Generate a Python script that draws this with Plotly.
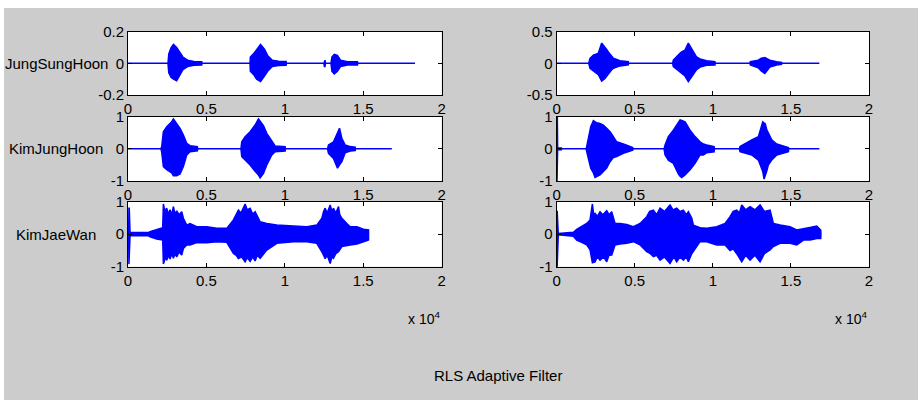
import plotly.graph_objects as go

# ---------------- data (envelopes, x in samples) ----------------
names = ["JungSungHoon", "KimJungHoon", "KimJaeWan"]
title_text = "RLS Adaptive Filter"
xtick_vals = [0, 5000, 10000, 15000, 20000]
xtick_text = ["0", "0.5", "1", "1.5", "2"]

# left column
l1_x = [0, 2550, 2600, 2750, 2900, 3100, 3300, 3500, 3800, 4200, 4700, 4720, 7780, 7800, 8000, 8200, 8450, 8700, 8900, 9200,
        9600, 10080, 10100, 12490, 12520, 12560, 12590, 12940, 13000, 13150, 13350, 13550, 14000, 14630, 14650, 18300]
l1_up = [0, 0, 0.06, 0.10, 0.12, 0.10, 0.07, 0.04, 0.02, 0.012, 0.01, 0, 0, 0.04, 0.06, 0.09, 0.12, 0.09, 0.05, 0.02,
         0.013, 0.012, 0, 0, 0.02, 0.02, 0, 0, 0.04, 0.057, 0.05, 0.02, 0.01, 0.01, 0, 0]
l1_lo = [0, 0, -0.06, -0.09, -0.10, -0.11, -0.08, -0.04, -0.02, -0.012, -0.01, 0, 0, -0.05, -0.07, -0.10, -0.115, -0.08, -0.05, -0.02,
         -0.013, -0.012, 0, 0, -0.02, -0.02, 0, 0, -0.05, -0.067, -0.05, -0.02, -0.01, -0.01, 0, 0]

l2_x = [0, 2100, 2150, 2255, 2470, 2786, 2893, 3106, 3318, 3531, 3744, 3956, 4424, 4440, 7200, 7253, 7466, 7785, 8104, 8317,
        8423, 8636, 8848, 9167, 9380, 10018, 10030, 12720, 12783, 13102, 13357, 13485, 13634, 13847, 14166, 14485, 14500, 16820]
l2_up = [0, 0, 0.07, 0.53, 0.69, 0.84, 0.93, 0.79, 0.64, 0.43, 0.17, 0.10, 0.07, 0, 0, 0.22, 0.38, 0.53, 0.74, 0.93,
         0.85, 0.72, 0.48, 0.22, 0.09, 0.07, 0, 0, 0.12, 0.22, 0.48, 0.64, 0.33, 0.12, 0.07, 0.05, 0, 0]
l2_lo = [0, 0, -0.1, -0.55, -0.65, -0.75, -0.84, -0.84, -0.78, -0.55, -0.19, -0.09, -0.06, 0, 0, -0.24, -0.35, -0.5, -0.7, -0.81,
         -0.9, -0.76, -0.5, -0.19, -0.09, -0.07, 0, 0, -0.14, -0.3, -0.6, -0.5, -0.4, -0.12, -0.07, -0.05, 0, 0]

l3_up_x = [0, 40, 60, 80, 130, 1300, 1404, 1829, 2212, 2255, 2350, 2467, 2570, 2680, 2790, 2893, 3000, 3105, 3250, 3424,
           3531, 3744, 3956, 4382, 5020, 5658, 6296, 6721, 6900, 7040, 7200, 7466, 7600, 7785, 7950, 8104, 8300, 8423, 8848, 9486,
           10550, 11400, 12039, 12358, 12470, 12570, 12700, 12890, 13000, 13102, 13250, 13421, 13500, 13634, 13953, 14166, 14591, 15017, 15336, 15340]
l3_up = [0, 0, 0.8, 0.8, 0.05, 0.05, 0.08, 0.15, 0.2, 0.93, 0.7, 0.8, 0.62, 0.75, 0.6, 0.85, 0.62, 0.72, 0.6, 0.69,
         0.49, 0.28, 0.33, 0.23, 0.23, 0.18, 0.18, 0.44, 0.6, 0.74, 0.65, 0.93, 0.75, 0.8, 0.62, 0.69, 0.5, 0.38, 0.33, 0.28,
         0.25, 0.23, 0.28, 0.49, 0.7, 0.8, 0.65, 0.9, 0.7, 0.8, 0.65, 0.85, 0.6, 0.49, 0.33, 0.23, 0.23, 0.15, 0.13, 0]
l3_lo_x = [0, 40, 60, 80, 130, 1300, 1404, 1829, 2212, 2255, 2297, 2400, 2467, 2600, 2680, 2800, 2893, 3000, 3105, 3250,
           3424, 3531, 3744, 3956, 4382, 5020, 5658, 6296, 6721, 6900, 7040, 7250, 7466, 7600, 7785, 7950, 8104, 8250, 8423, 8848,
           9486, 10550, 11400, 12039, 12358, 12570, 12700, 12890, 13000, 13102, 13250, 13421, 13634, 13953, 14166, 14591, 15017, 15336, 15340]
l3_lo = [0, 0, -0.92, -0.92, -0.05, -0.05, -0.08, -0.15, -0.18, -0.92, -0.92, -0.7, -0.8, -0.65, -0.76, -0.6, -0.74, -0.6, -0.7, -0.55,
         -0.64, -0.44, -0.33, -0.33, -0.26, -0.26, -0.23, -0.25, -0.59, -0.65, -0.75, -0.7, -0.85, -0.72, -0.84, -0.7, -0.82, -0.65, -0.74, -0.49,
         -0.28, -0.23, -0.23, -0.28, -0.54, -0.75, -0.65, -0.9, -0.7, -0.74, -0.6, -0.54, -0.38, -0.35, -0.33, -0.3, -0.23, -0.18, 0]

# right column
r1_x = [0, 2048, 2133, 2347, 2560, 2666, 2880, 3094, 3200, 3307, 3520, 3627, 4054, 4587, 4600, 7425, 7468, 7575, 7895, 8000,
        8215, 8430, 8640, 8750, 8960, 9180, 9390, 9600, 10135, 10150, 12370, 12400, 12905, 13100, 13330, 13650, 14080, 14400, 14420, 16820]
r1_up = [0, 0, 0.08, 0.13, 0.15, 0.16, 0.32, 0.26, 0.22, 0.18, 0.1, 0.08, 0.04, 0.025, 0, 0, 0.05, 0.08, 0.16, 0.18,
         0.21, 0.32, 0.24, 0.18, 0.1, 0.07, 0.05, 0.04, 0.025, 0, 0, 0.025, 0.05, 0.08, 0.09, 0.05, 0.025, 0.015, 0, 0]
r1_lo = [0, 0, -0.08, -0.12, -0.16, -0.18, -0.28, -0.24, -0.21, -0.17, -0.1, -0.08, -0.04, -0.025, 0, 0, -0.05, -0.08, -0.14, -0.16,
         -0.2, -0.29, -0.22, -0.18, -0.1, -0.06, -0.05, -0.03, -0.025, 0, 0, -0.025, -0.07, -0.12, -0.16, -0.06, -0.025, -0.015, 0, 0]

r2_x = [0, 20, 40, 60, 300, 320, 1880, 1920, 2030, 2180, 2350, 2455, 2560, 2775, 2990, 3200, 3415, 3630, 3840, 4270,
        4700, 4870, 4890, 6875, 6940, 7150, 7470, 7790, 7900, 8005, 8220, 8540, 8860, 9180, 9395, 9610, 10080, 10100, 11700, 11740,
        12060, 12490, 12915, 13195, 13280, 13345, 13450, 13555, 13770, 14090, 14520, 14840, 14860, 16820]
r2_up = [0, 1, 1, 0.03, 0.03, 0, 0, 0.07, 0.38, 0.69, 0.88, 0.85, 0.81, 0.79, 0.74, 0.64, 0.53, 0.38, 0.22, 0.15,
         0.07, 0.04, 0, 0, 0.12, 0.38, 0.58, 0.79, 0.9, 0.88, 0.84, 0.58, 0.38, 0.22, 0.15, 0.12, 0.07, 0, 0, 0.07,
         0.17, 0.28, 0.38, 0.84, 0.8, 0.79, 0.6, 0.48, 0.28, 0.15, 0.09, 0.04, 0, 0]
r2_lo = [0, -1, -1, -0.03, -0.03, 0, 0, -0.08, -0.3, -0.6, -0.75, -0.89, -0.86, -0.81, -0.7, -0.6, -0.4, -0.27, -0.24, -0.14,
         -0.07, -0.04, 0, 0, -0.19, -0.35, -0.45, -0.78, -0.85, -0.89, -0.81, -0.65, -0.45, -0.19, -0.19, -0.12, -0.09, 0, 0, -0.09,
         -0.14, -0.19, -0.35, -0.7, -0.94, -0.85, -0.7, -0.5, -0.35, -0.19, -0.14, -0.09, 0, 0]

r3_up_x = [0, 10, 30, 100, 1068, 1281, 1601, 1922, 2135, 2285, 2370, 2455, 2600, 2776, 2950, 3203, 3350, 3523, 3736, 4057,
           4484, 4911, 5338, 5765, 5950, 6192, 6400, 6619, 6900, 7259, 7450, 7686, 7900, 8113, 8300, 8433, 8647, 8754, 9181, 9608,
           10248, 10782, 11102, 11300, 11529, 11700, 11850, 12100, 12383, 12700, 13024, 13300, 13664, 13878, 14305, 14945, 15372, 15799, 16226, 16653,
           16909, 16920]
r3_up = [0, 0.72, 0.72, 0.02, 0.06, 0.15, 0.23, 0.33, 0.44, 0.93, 0.6, 0.64, 0.55, 0.69, 0.6, 0.72, 0.6, 0.69, 0.33, 0.33,
         0.30, 0.23, 0.33, 0.54, 0.7, 0.74, 0.6, 0.8, 0.7, 0.9, 0.75, 0.8, 0.7, 0.74, 0.6, 0.69, 0.5, 0.28, 0.2, 0.18,
         0.23, 0.33, 0.54, 0.7, 0.74, 0.65, 0.9, 0.75, 0.85, 0.75, 0.9, 0.7, 0.74, 0.33, 0.28, 0.23, 0.13, 0.18, 0.21, 0.25,
         0.13, 0]
r3_lo_x = [0, 10, 30, 100, 1068, 1281, 1601, 1922, 2135, 2285, 2455, 2600, 2776, 3000, 3203, 3350, 3523, 3736, 4057, 4484,
           4911, 5338, 5765, 6000, 6192, 6400, 6619, 6900, 7259, 7500, 7686, 7900, 8113, 8300, 8433, 8647, 8754, 9181, 9608, 10248,
           10782, 11102, 11300, 11529, 11850, 12100, 12383, 12700, 13024, 13300, 13664, 13878, 14305, 14945, 15372, 15799, 16226, 16653, 16909, 16920]
r3_lo = [0, -1, -1, -0.02, -0.06, -0.18, -0.25, -0.33, -0.48, -0.88, -0.85, -0.7, -0.8, -0.7, -0.85, -0.65, -0.64, -0.33, -0.3, -0.28,
         -0.23, -0.33, -0.54, -0.6, -0.69, -0.65, -0.8, -0.7, -0.9, -0.7, -0.85, -0.7, -0.8, -0.7, -0.85, -0.6, -0.5, -0.23, -0.23, -0.33,
         -0.33, -0.5, -0.45, -0.6, -0.85, -0.65, -0.8, -0.65, -0.85, -0.6, -0.48, -0.38, -0.28, -0.28, -0.33, -0.18, -0.18, -0.13, -0.13, 0]

y_ranges = [[-0.2, 0.2], [-0.5, 0.5], [-1, 1], [-1, 1], [-1, 1], [-1, 1]]
y_ticks = [[-0.2, 0, 0.2], [-0.5, 0, 0.5], [-1, 0, 1], [-1, 0, 1], [-1, 0, 1], [-1, 0, 1]]
y_ticktext = [["-0.2", "0", "0.2"], ["-0.5", "0", "0.5"], ["-1", "0", "1"], ["-1", "0", "1"], ["-1", "0", "1"], ["-1", "0", "1"]]

# order: row-major (left, right) per row
signals = [(l1_x, l1_up, l1_x, l1_lo), (r1_x, r1_up, r1_x, r1_lo),
           (l2_x, l2_up, l2_x, l2_lo), (r2_x, r2_up, r2_x, r2_lo),
           (l3_up_x, l3_up, l3_lo_x, l3_lo), (r3_up_x, r3_up, r3_lo_x, r3_lo)]

# ---------------- layout geometry (pixels) ----------------
W, H = 920, 400
col_px = [(128, 441.7), (556.7, 869)]
row_px = [(31.7, 95), (116.7, 181), (201.7, 266.7)]
FONT = "Liberation Sans"
FS = 15
BLUE = "#0000ff"

fig = go.Figure()
for i, (ux, uy, lx, ly) in enumerate(signals):
    assert len(ux) == len(uy) and len(lx) == len(ly), i
    ax = "" if i == 0 else str(i + 1)
    px = list(ux) + list(lx)[::-1]
    py = list(uy) + list(ly)[::-1]
    fig.add_trace(go.Scatter(x=px, y=py, mode="lines", fill="toself", fillcolor=BLUE,
                             line=dict(color=BLUE, width=1.5), hoverinfo="skip",
                             xaxis="x" + ax, yaxis="y" + ax, showlegend=False))
    r, c = divmod(i, 2)
    x0, x1 = col_px[c]
    t, b = row_px[r]
    common = dict(showline=True, linecolor="black", linewidth=1, mirror="ticks", ticks="inside",
                  ticklen=4, tickcolor="black", showgrid=False, zeroline=False, automargin=False,
                  tickfont=dict(family=FONT, size=FS, color="black"))
    fig.layout["xaxis" + ax] = dict(domain=[x0 / W, x1 / W], range=[0, 20000], tickvals=xtick_vals,
                                    ticktext=xtick_text, anchor="y" + ax, **common)
    fig.layout["yaxis" + ax] = dict(domain=[1 - b / H, 1 - t / H], range=y_ranges[i], tickvals=y_ticks[i],
                                    ticktext=y_ticktext[i], anchor="x" + ax, **common)

annotations = []
for r, name in enumerate(names):
    t, b = row_px[r]
    annotations.append(dict(text=name, x=56 / W, y=1 - (t + b) / 2 / H, xref="paper", yref="paper",
                            xanchor="center", yanchor="middle", showarrow=False,
                            font=dict(family=FONT, size=FS, color="black")))
for c in range(2):
    annotations.append(dict(text="x 10<sup>4</sup>", x=col_px[c][1] / W, y=1 - 318 / H, xref="paper", yref="paper",
                            xanchor="right", yanchor="middle", showarrow=False,
                            font=dict(family=FONT, size=FS - 1, color="black")))
annotations.append(dict(text=title_text, x=498 / W, y=1 - 375 / H, xref="paper", yref="paper",
                        xanchor="center", yanchor="middle", showarrow=False,
                        font=dict(family=FONT, size=FS, color="black")))

shapes = [
    dict(type="rect", xref="paper", yref="paper", x0=0, x1=1, y0=1 - 8 / H, y1=1, fillcolor="white", line_width=0),
    dict(type="rect", xref="paper", yref="paper", x0=0, x1=4 / W, y0=0, y1=1, fillcolor="white", line_width=0),
    dict(type="rect", xref="paper", yref="paper", x0=918 / W, x1=1, y0=0, y1=1, fillcolor="white", line_width=0),
]

fig.update_layout(width=W, height=H, autosize=False, margin=dict(l=0, r=0, t=0, b=0, pad=0, autoexpand=False),
                  paper_bgcolor="#cccccc", plot_bgcolor="white",
                  annotations=annotations, shapes=shapes, showlegend=False)

fig.write_html("out.html", config={"displayModeBar": False, "staticPlot": True},
               post_script="document.body.style.margin='0px';document.body.style.padding='0px';"
                           "document.body.style.overflow='hidden';")
